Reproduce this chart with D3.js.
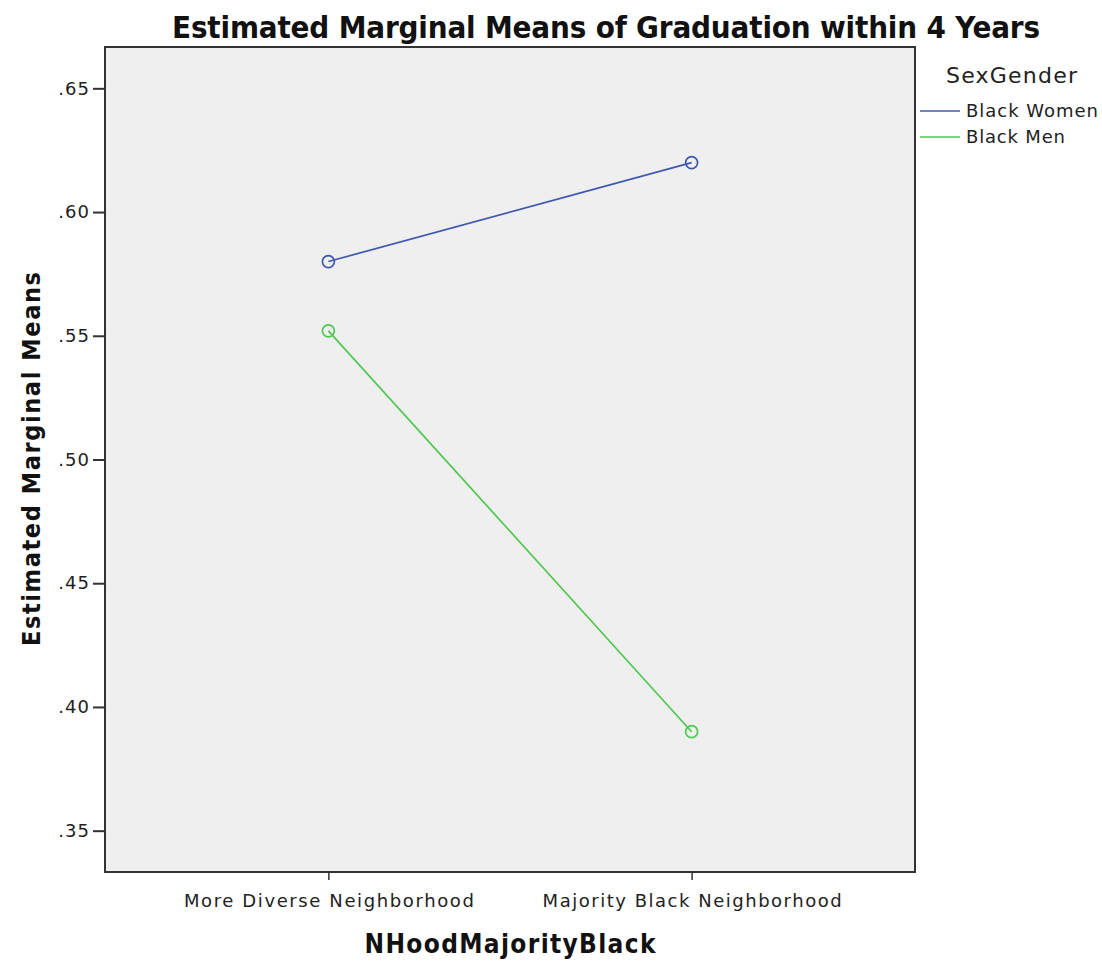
<!DOCTYPE html>
<html><head><meta charset="utf-8">
<script src="https://cdn.jsdelivr.net/npm/d3@7"></script>
<style>body{margin:0;background:#fff;}</style>
</head><body>
<svg id="chart" width="1102" height="961"></svg>
<script>
const categories = ["More Diverse Neighborhood", "Majority Black Neighborhood"];
const seriesNames = ["Black Women", "Black Men"];
const womenValues = [0.580, 0.620];
const menValues = [0.552, 0.390];
const yTicks = [0.35, 0.40, 0.45, 0.50, 0.55, 0.60, 0.65];
const colors = ["#3e58b0", "#4ec84e"];
const title = "Estimated Marginal Means of Graduation within 4 Years";
const yTitle = "Estimated Marginal Means";
const xTitle = "NHoodMajorityBlack";
const legendTitle = "SexGender";

const svg = d3.select("#chart");
const L = 105, R = 915, T = 47, B = 872;
const x = d3.scalePoint().domain(categories).range([L, R]).padding(0.615);
const y = d3.scaleLinear().domain([0.3333, 0.6667]).range([B, T]);
const fontMain = "'DejaVu Sans', sans-serif";
const fontCond = "'DejaVu Sans Condensed', 'Liberation Sans Narrow', sans-serif";

svg.append("rect").attr("x", L).attr("y", T).attr("width", R - L).attr("height", B - T)
  .attr("fill", "#efefef").attr("stroke", "#333").attr("stroke-width", 2);

const yAxis = svg.append("g").attr("transform", `translate(${L},0)`)
  .call(d3.axisLeft(y).tickValues(yTicks).tickSize(12).tickPadding(3)
    .tickFormat(d => d3.format(".2f")(d).replace(/^0/, "")));
yAxis.select(".domain").remove();
yAxis.selectAll("line").attr("stroke", "#333").attr("stroke-width", 2);
yAxis.selectAll("text").attr("font-family", fontMain).attr("font-size", 18)
  .attr("letter-spacing", 1).attr("fill", "#222");

const xLens = [290, 299];
const xAxis = svg.append("g").attr("transform", `translate(0,${B})`)
  .call(d3.axisBottom(x).tickSize(8).tickPadding(14));
xAxis.select(".domain").remove();
xAxis.selectAll("line").attr("stroke", "#333").attr("stroke-width", 1.5);
xAxis.selectAll("text").attr("font-family", fontMain).attr("font-size", 18).attr("fill", "#222")
  .attr("textLength", (d, i) => xLens[i]).attr("lengthAdjust", "spacing");

const series = [womenValues, menValues];
series.forEach((vals, i) => {
  const pts = categories.map((c, j) => [x(c), y(vals[j])]);
  svg.append("path").attr("d", d3.line()(pts)).attr("fill", "none")
    .attr("stroke", colors[i]).attr("stroke-width", 1.7);
  svg.selectAll(null).data(pts).enter().append("circle")
    .attr("cx", d => d[0]).attr("cy", d => d[1]).attr("r", 6)
    .attr("fill", "none").attr("stroke", colors[i]).attr("stroke-width", 1.7);
});

svg.append("text").attr("x", 606).attr("y", 38).attr("text-anchor", "middle")
  .attr("font-family", fontCond).attr("font-weight", "bold").attr("font-size", 31)
  .attr("textLength", 868).attr("lengthAdjust", "spacing")
  .attr("fill", "#111").text(title);
svg.append("text").attr("transform", `translate(40,459) rotate(-90)`)
  .attr("text-anchor", "middle").attr("font-family", fontCond).attr("font-weight", "bold")
  .attr("font-size", 25).attr("textLength", 374).attr("lengthAdjust", "spacing")
  .attr("fill", "#111").text(yTitle);
svg.append("text").attr("x", 510).attr("y", 953).attr("text-anchor", "middle")
  .attr("font-family", fontCond).attr("font-weight", "bold")
  .attr("font-size", 26).attr("textLength", 291).attr("lengthAdjust", "spacing")
  .attr("fill", "#111").text(xTitle);

svg.append("text").attr("x", 946).attr("y", 83).attr("font-family", fontMain)
  .attr("font-size", 22).attr("textLength", 131).attr("lengthAdjust", "spacing")
  .attr("fill", "#222").text(legendTitle);
const legLens = [132, 99];
seriesNames.forEach((n, i) => {
  const yy = 111 + i * 26;
  svg.append("line").attr("x1", 920).attr("x2", 960).attr("y1", yy).attr("y2", yy)
    .attr("stroke", colors[i]).attr("stroke-width", 1.7);
  svg.append("text").attr("x", 966).attr("y", yy + 6).attr("font-family", fontMain)
    .attr("font-size", 18).attr("textLength", legLens[i]).attr("lengthAdjust", "spacing")
    .attr("fill", "#222").text(n);
});
</script>
</body></html>
